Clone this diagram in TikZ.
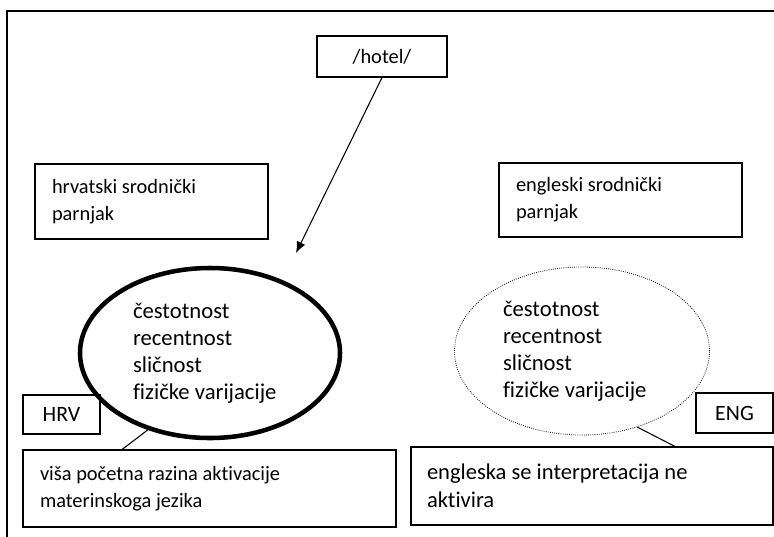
\documentclass[tikz,border=0pt]{standalone}
\usepackage{fontspec}
\setmainfont{Carlito}[Ligatures=NoCommon]
\usepackage{tikz}
\usetikzlibrary{arrows.meta,shapes.geometric}

\tikzset{
  box/.style={draw,line width=0.8pt,inner sep=0pt,align=flush left},
  cue/.style={ellipse,inner sep=0pt,align=flush left,font=\fontsize{17}{20.25}\selectfont},
}

\begin{document}
\begin{tikzpicture}[x=0.75pt,y=-0.75pt,font=\fontsize{15.3}{20.25}\selectfont]
  \useasboundingbox (0,0) rectangle (774,536);
  \draw[line width=0.8pt] (7,540) -- (7,11) -- (780,11);
  \node[box,minimum width=97.5pt,minimum height=30.75pt] (hotel) at (382,56.5) {/hotel/};
  \node[box,minimum width=174.75pt,minimum height=56.25pt,text width=149.25pt] (hrpar) at (151.5,201.5)
    {hrvatski srodnički\\parnjak};
  \node[box,minimum width=182.25pt,minimum height=55.5pt,text width=156.75pt] (enpar) at (620.5,200)
    {engleski srodnički\\parnjak};
  \node[cue,draw,line width=3.4pt,minimum width=195pt,minimum height=127.5pt,text width=115.5pt] (hrcue) at (210,353)
    {čestotnost\\recentnost\\sličnost\\fizičke varijacije};
  \node[cue,draw,densely dotted,line width=0.6pt,minimum width=191.25pt,minimum height=126pt,text width=118.5pt] (encue) at (582,351)
    {čestotnost\\recentnost\\sličnost\\fizičke varijacije};
  \node[box,minimum width=57.75pt,minimum height=29.25pt,font=\fontsize{16.4}{20}\selectfont] (hrv) at (61.5,414.5) {HRV};
  \node[box,minimum width=57.75pt,minimum height=30pt,font=\fontsize{16.4}{20}\selectfont] (eng) at (734.5,413) {ENG};
  \node[box,minimum width=279.75pt,minimum height=57.75pt,text width=254.25pt] (hrout) at (209.5,488.5)
    {viša početna razina aktivacije\\materinskoga jezika};
  \node[box,minimum width=271.5pt,minimum height=58.5pt,text width=247.5pt,font=\fontsize{16.9}{21}\selectfont] (enout) at (592,486)
    {engleska se interpretacija ne\\aktivira};
  \coordinate (tip) at (296,253);
  \draw[line width=0.8pt,-{Latex[length=8.5pt,width=7pt]}] (hotel.south) -- (tip);
  \draw[line width=0.8pt] (hrcue.231) -- ([xshift=-65.6pt]hrout.north);
  \draw[line width=0.8pt] (encue.306) -- ([xshift=62.25pt]enout.north);
\end{tikzpicture}
\end{document}
